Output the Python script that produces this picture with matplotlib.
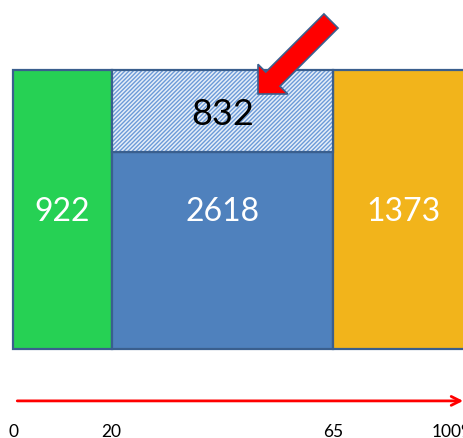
import matplotlib
matplotlib.use("Agg")
import matplotlib.pyplot as plt
from matplotlib.patches import FancyArrow

plt.rcParams['font.family'] = ['Lato', 'DejaVu Sans']
plt.rcParams['hatch.linewidth'] = 1.0

# ---- data ----
x_edges = [0, 20, 65, 100]
tick_labels = ['0', '20', '65', '100%']
bar_values = [922, 2618, 1373]
top_value = 832              # hatched part on top of the middle bar
middle_split = 0.706         # share of the middle bar height taken by 2618
bar_colors = ['#26D154', '#4F81BD', '#F2B41B']

edge = '#3A5F8E'

PX0, SX = 13, 4.93
fig = plt.figure(figsize=(4.63, 4.39), dpi=100)
ax = fig.add_axes([0, 0, 1, 1])
ax.set_xlim(-PX0 / SX, (463 - PX0) / SX)
ax.set_ylim(-89 / 279, 1 + 71 / 279)
ax.axis('off')

lefts = x_edges[:-1]
widths = [b - a for a, b in zip(x_edges[:-1], x_edges[1:])]

heights = [1.0, middle_split, 1.0]
ax.bar(lefts, heights, width=widths, align='edge', color=bar_colors,
       edgecolor=edge, linewidth=1.6, zorder=2)

# hatched top segment of middle bar
ax.bar(lefts[1], 1 - middle_split, width=widths[1], bottom=middle_split,
       align='edge', facecolor='#E6EEF8', edgecolor='#6C9AD8', hatch='////////',
       linewidth=0, zorder=2)
ax.bar(lefts[1], 1 - middle_split, width=widths[1], bottom=middle_split,
       align='edge', fill=False, edgecolor=edge, linewidth=1.6, zorder=3)

# labels
xmin, xmax = ax.get_xlim()
for l, w, v in zip(lefts, widths, bar_values):
    vis_l, vis_r = max(l, xmin), min(l + w, xmax + 2)
    ax.text((vis_l + vis_r) / 2, 0.495, str(v), color='white', fontsize=23,
            ha='center', va='center', zorder=4)
ax.text(lefts[1] + widths[1] / 2, middle_split + (1 - middle_split) / 2 - 0.01,
        str(top_value), color='black', fontsize=26, ha='center', va='center', zorder=4)

# bottom red axis arrow
y_axis = -0.186
ax.annotate('', xy=(xmax + 0.6, y_axis), xytext=(0.3, y_axis),
            arrowprops=dict(arrowstyle='->', color='red', lw=2.0, mutation_scale=16),
            annotation_clip=False, zorder=3)
for xv, lab in zip(x_edges[:-1], tick_labels[:-1]):
    ax.text(xv, -0.265, lab, fontsize=12.5, ha='center', va='top', color='black')
ax.text(432 / 463, (-0.265 + 89 / 279) / (1 + 71 / 279 + 89 / 279), tick_labels[-1],
        fontsize=12.5, ha='left', va='top', color='black', transform=ax.transAxes)

# red callout arrow (figure inches)
arr = FancyArrow(3.31, 4.17, -0.73, -0.73, width=0.2, head_width=0.42,
                 head_length=0.21, length_includes_head=True,
                 facecolor='#FF0000', edgecolor=edge, linewidth=1.2,
                 transform=fig.dpi_scale_trans, zorder=5)
fig.add_artist(arr)

fig.savefig('out.png', dpi=100)
